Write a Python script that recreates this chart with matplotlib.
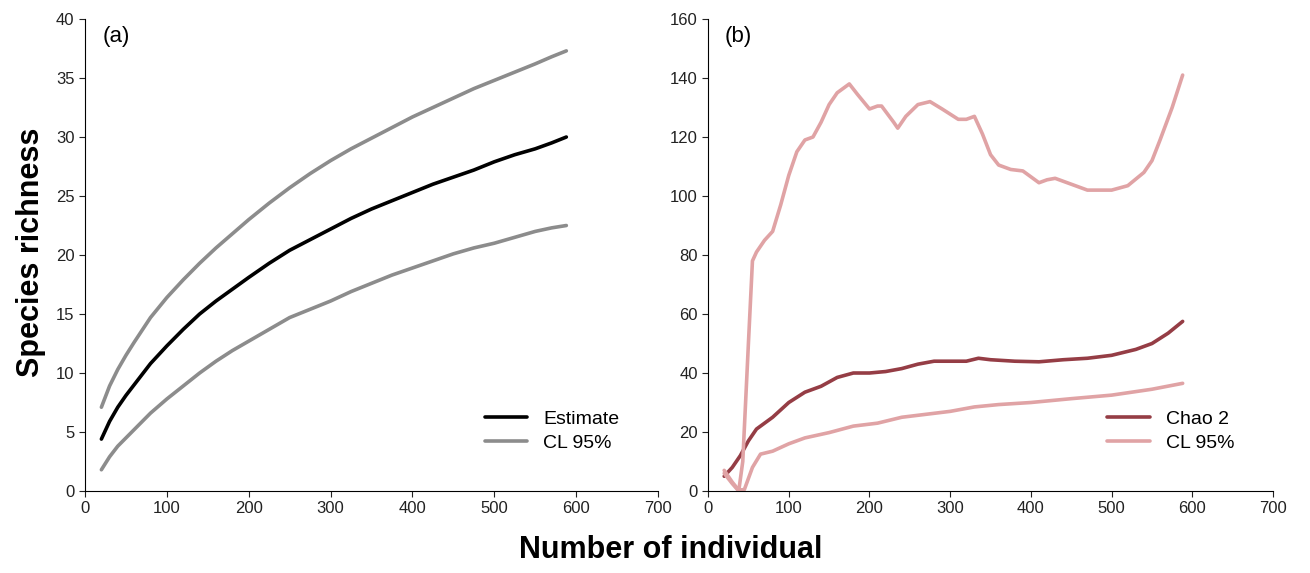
import matplotlib.pyplot as plt
import numpy as np

# (a) individual-based rarefaction
xa = [20, 30, 40, 50, 60, 80, 100, 120, 140, 160, 180, 200, 225, 250, 275, 300, 325,
      350, 375, 400, 425, 450, 475, 500, 525, 550, 570, 588]
est = [4.4, 5.9, 7.1, 8.1, 9.0, 10.8, 12.3, 13.7, 15.0, 16.1, 17.1, 18.1, 19.3, 20.4,
       21.3, 22.2, 23.1, 23.9, 24.6, 25.3, 26.0, 26.6, 27.2, 27.9, 28.5, 29.0, 29.5, 30.0]
cl_up = [7.1, 8.9, 10.3, 11.5, 12.6, 14.7, 16.4, 17.9, 19.3, 20.6, 21.8, 23.0, 24.4, 25.7,
         26.9, 28.0, 29.0, 29.9, 30.8, 31.7, 32.5, 33.3, 34.1, 34.8, 35.5, 36.2, 36.8, 37.3]
cl_lo = [1.8, 2.9, 3.8, 4.5, 5.2, 6.6, 7.8, 8.9, 10.0, 11.0, 11.9, 12.7, 13.7, 14.7,
         15.4, 16.1, 16.9, 17.6, 18.3, 18.9, 19.5, 20.1, 20.6, 21.0, 21.5, 22.0, 22.3, 22.5]

# (b) Chao 2
xb_chao = [20, 30, 40, 50, 60, 70, 80, 100, 120, 140, 160, 180, 200, 220, 240, 260, 280,
           300, 320, 335, 350, 380, 410, 440, 470, 500, 530, 550, 570, 588]
chao2 = [5, 8, 12, 17, 21, 23, 25, 30, 33.5, 35.5, 38.5, 40, 40, 40.5, 41.5, 43, 44,
         44, 44, 45, 44.5, 44, 43.8, 44.5, 45, 46, 48, 50, 53.5, 57.5]

xb_lo = [20, 30, 38, 45, 55, 65, 80, 100, 120, 150, 180, 210, 240, 270, 300, 330, 360,
         400, 450, 500, 550, 588]
chao_lo = [7, 3, 0.3, 0.5, 8, 12.5, 13.5, 16, 18, 19.8, 22, 23, 25, 26, 27, 28.5, 29.3,
           30, 31.3, 32.5, 34.5, 36.5]

xb_up = [20, 30, 38, 43, 50, 55, 60, 70, 80, 90, 100, 110, 120, 130, 140, 150, 160, 175,
         185, 200, 210, 215, 230, 235, 245, 260, 275, 290, 310, 320, 330, 340, 350, 360,
         375, 390, 400, 410, 420, 430, 450, 470, 500, 520, 540, 550, 560, 575, 588]
chao_up = [6, 2.5, 0, 10, 50, 78, 81, 85, 88, 97, 107, 115, 119, 120, 125, 131, 135, 138,
           134.5, 129.5, 130.5, 130.5, 125, 123, 127, 131, 132, 129.5, 126, 126, 127, 121,
           114, 110.5, 109, 108.5, 106.5, 104.5, 105.5, 106, 104, 102, 102, 103.5, 108, 112,
           119, 130, 141]

plt.rcParams['font.family'] = ['Liberation Sans Narrow', 'Liberation Sans', 'DejaVu Sans']
plt.rcParams['lines.solid_joinstyle'] = 'round'
plt.rcParams['lines.solid_capstyle'] = 'round'

fig = plt.figure(figsize=(13.1, 5.73), dpi=100)
ax1 = fig.add_axes([0.0649, 0.1431, 0.4374, 0.8237])
ax2 = fig.add_axes([0.5405, 0.1431, 0.4313, 0.8237])

ax1.plot(xa, est, color='black', lw=2.6, label='Estimate')
ax1.plot(xa, cl_up, color='#8c8c8c', lw=2.6, label='CL 95%')
ax1.plot(xa, cl_lo, color='#8c8c8c', lw=2.6)
ax1.set_ylim(0, 40)
ax1.set_yticks(np.arange(0, 41, 5))

ax2.plot(xb_chao, chao2, color='#953d45', lw=2.6, label='Chao 2')
ax2.plot(xb_up, chao_up, color='#e0a3a5', lw=2.6, label='CL 95%')
ax2.plot(xb_lo, chao_lo, color='#e0a3a5', lw=2.6)
ax2.set_ylim(0, 160)
ax2.set_yticks(np.arange(0, 161, 20))

for ax, tag in [(ax1, '(a)'), (ax2, '(b)')]:
    ax.set_xlim(0, 700)
    ax.set_xticks(np.arange(0, 701, 100))
    ax.spines['top'].set_visible(False)
    ax.spines['right'].set_visible(False)
    ax.tick_params(direction='out', length=4, labelsize=12, colors='#222222')
    ax.text(0.03, 0.985, tag, transform=ax.transAxes, fontsize=16,
            family=['Liberation Sans', 'DejaVu Sans'], va='top')
    ax.legend(loc='lower right', frameon=False, handlelength=2.2,
              borderaxespad=1.6, labelspacing=0.35,
              prop={'family': ['Liberation Sans Narrow', 'Liberation Sans'], 'size': 14})

fig.text(0.024, 0.56, 'Species richness', rotation=90, ha='center', va='center',
         fontsize=22, fontweight='bold', family=['Liberation Sans', 'DejaVu Sans'])
fig.text(0.512, 0.04, 'Number of individual', ha='center', va='center',
         fontsize=22, fontweight='bold', family=['Liberation Sans', 'DejaVu Sans'])

fig.savefig('out.png', dpi=100)
